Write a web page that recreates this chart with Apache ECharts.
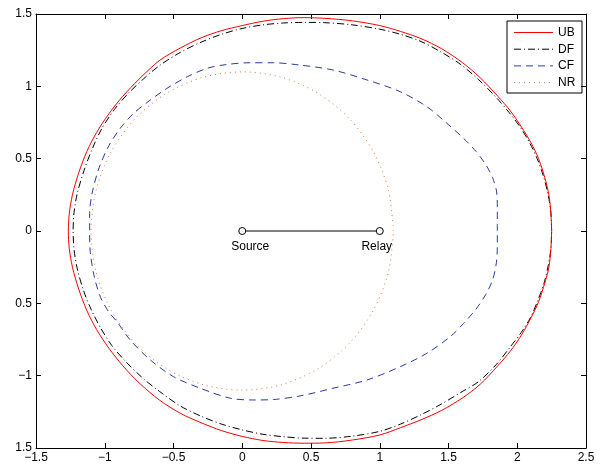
<!DOCTYPE html>
<html>
<head>
<meta charset="utf-8">
<script src="https://cdn.jsdelivr.net/npm/echarts@6/dist/echarts.min.js"></script>
<style>html,body{margin:0;padding:0;background:#fff}#c{width:600px;height:464px}</style>
</head>
<body>
<div id="c"></div>
<script>
// ---- data ----
const seriesNames = ['UB', 'DF', 'CF', 'NR'];
const ubPoints = [
  [2.25,0],[2.245,0.12],[2.23,0.25],[2.2,0.37],[2.155,0.5],[2.1,0.61],[2.03,0.72],[1.95,0.83],
  [1.86,0.93],[1.73,1.06],[1.6,1.165],[1.45,1.26],[1.3,1.33],[1.15,1.38],[1.0,1.42],[0.8,1.453],
  [0.6,1.47],[0.45,1.475],[0.3,1.468],[0.15,1.45],[0.0,1.42],[-0.15,1.385],[-0.3,1.335],
  [-0.45,1.265],[-0.6,1.18],[-0.75,1.05],[-0.87,0.93],[-0.97,0.81],[-1.06,0.68],[-1.13,0.55],
  [-1.19,0.4],[-1.235,0.25],[-1.258,0.12],[-1.265,0],
  [-1.258,-0.12],[-1.235,-0.25],[-1.19,-0.4],[-1.13,-0.55],[-1.06,-0.68],[-0.97,-0.81],
  [-0.87,-0.93],[-0.75,-1.05],[-0.6,-1.17],[-0.45,-1.26],[-0.3,-1.325],[-0.15,-1.38],[0,-1.42],
  [0.15,-1.448],[0.3,-1.462],[0.45,-1.467],[0.6,-1.465],[0.8,-1.445],[1.0,-1.41],[1.15,-1.36],
  [1.3,-1.305],[1.45,-1.24],[1.6,-1.155],[1.73,-1.06],[1.86,-0.93],[1.95,-0.83],[2.03,-0.72],
  [2.1,-0.6],[2.155,-0.49],[2.2,-0.36],[2.23,-0.25],[2.245,-0.12],[2.25,0]
];
const dfPoints = [
  [2.25,0],[2.245,0.12],[2.225,0.25],[2.19,0.38],[2.145,0.5],[2.09,0.61],[2.02,0.72],[1.94,0.82],
  [1.85,0.92],[1.72,1.045],[1.59,1.15],[1.45,1.235],[1.3,1.31],[1.15,1.36],[1.0,1.395],[0.8,1.425],
  [0.6,1.44],[0.45,1.442],[0.3,1.438],[0.15,1.425],[0.0,1.4],[-0.15,1.36],[-0.3,1.305],
  [-0.45,1.235],[-0.6,1.145],[-0.72,1.05],[-0.83,0.95],[-0.93,0.84],[-1.02,0.71],[-1.09,0.57],
  [-1.15,0.42],[-1.2,0.26],[-1.223,0.13],[-1.23,0],
  [-1.223,-0.13],[-1.2,-0.26],[-1.155,-0.41],[-1.1,-0.54],[-1.03,-0.67],[-0.95,-0.79],
  [-0.85,-0.9],[-0.72,-1.02],[-0.6,-1.11],[-0.45,-1.21],[-0.3,-1.28],[-0.15,-1.335],[0,-1.375],
  [0.15,-1.405],[0.3,-1.422],[0.45,-1.432],[0.6,-1.433],[0.8,-1.418],[1.0,-1.385],[1.15,-1.335],
  [1.3,-1.27],[1.45,-1.195],[1.6,-1.11],[1.72,-1.04],[1.85,-0.92],[1.95,-0.8],[2.03,-0.7],
  [2.095,-0.6],[2.15,-0.48],[2.195,-0.36],[2.225,-0.24],[2.245,-0.12],[2.25,0]
];
const cfPoints = [
  [1.855,0],[1.855,0.15],[1.85,0.27],[1.82,0.37],[1.77,0.46],[1.7,0.55],[1.61,0.64],[1.489,0.744],
  [1.343,0.859],[1.149,0.963],[0.907,1.044],[0.66,1.113],[0.42,1.147],[0.226,1.163],[0.05,1.163],
  [-0.12,1.15],[-0.257,1.124],[-0.4,1.066],[-0.548,0.986],[-0.669,0.905],[-0.79,0.813],[-0.887,0.71],
  [-0.97,0.59],[-1.04,0.44],[-1.09,0.27],[-1.11,0.12],[-1.11,0],[-1.105,-0.15],[-1.075,-0.32],
  [-1.03,-0.46],[-0.97,-0.56],[-0.911,-0.627],[-0.815,-0.753],[-0.67,-0.89],[-0.5,-1.007],
  [-0.305,-1.087],[-0.087,-1.156],[0.08,-1.168],[0.226,-1.165],[0.42,-1.14],[0.66,-1.087],
  [0.907,-1.03],[1.149,-0.938],[1.343,-0.845],[1.513,-0.73],[1.61,-0.638],[1.7,-0.54],
  [1.77,-0.44],[1.82,-0.34],[1.848,-0.22],[1.855,-0.1],[1.855,0]
];
const nrPoints = [
  [1.1,0],[1.0625,0.2847],[0.9526,0.55],[0.7778,0.7778],[0.55,0.9526],[0.2847,1.0625],[0,1.1],
  [-0.2847,1.0625],[-0.55,0.9526],[-0.7778,0.7778],[-0.9526,0.55],[-1.0625,0.2847],[-1.1,0],
  [-1.0625,-0.2847],[-0.9526,-0.55],[-0.7778,-0.7778],[-0.55,-0.9526],[-0.2847,-1.0625],[0,-1.1],
  [0.2847,-1.0625],[0.55,-0.9526],[0.7778,-0.7778],[0.9526,-0.55],[1.0625,-0.2847],[1.1,0]
];
const nodeNames = ['Source', 'Relay'];
const nodePoints = [[0,0],[1,0]];
const xTicks = [-1.5,-1,-0.5,0,0.5,1,1.5,2,2.5];
const xTickLabels = ['\u22121.5','\u22121','\u22120.5','0','0.5','1','1.5','2','2.5'];
const yTicks = [-1.5,-1,-0.5,0,0.5,1,1.5];
const yTickLabels = ['1.5','\u22121','0.5','0','0.5','1','1.5'];

// ---- chart ----
const FONT = '"Liberation Sans", Arial, Helvetica, sans-serif';
const colors = { UB:'#ff0000', DF:'#000000', CF:'#2a3c9e', NR:'#d9773d' };
const dashes = { UB:'solid', DF:[7,3,1,3], CF:[7,5], NR:[1,4] };

function lookup(ticks, labels){
  return v => { const i = ticks.findIndex(t => Math.abs(t - v) < 1e-9); return i >= 0 ? labels[i] : ''; };
}
function axisBase(pos, show, fmt){
  return {
    type:'value', position:pos,
    axisLine:{show:true, onZero:false, lineStyle:{color:'#000', width:1}},
    axisTick:{show:true, inside:true, length:5, lineStyle:{color:'#000', width:1}},
    splitLine:{show:false},
    axisLabel:{show:show, color:'#000', fontSize:12, fontFamily:FONT, margin:4, formatter:fmt, hideOverlap:false}
  };
}
const xMin = xTicks[0], xMax = xTicks[xTicks.length-1];
const yMin = yTicks[0], yMax = yTicks[yTicks.length-1];
const xFmt = lookup(xTicks, xTickLabels), yFmt = lookup(yTicks, yTickLabels);

const curveData = { UB:ubPoints, DF:dfPoints, CF:cfPoints, NR:nrPoints };
const series = seriesNames.map(n => ({
  name:n, type:'line', data:curveData[n], symbol:'none', smooth:0.3, silent:true,
  xAxisIndex:0, yAxisIndex:0, animation:false,
  lineStyle:{color:colors[n], width:1, type:dashes[n]}, z: n==='UB'?3:2
}));
series.push({
  name:'nodes', type:'line', xAxisIndex:0, yAxisIndex:0, animation:false,
  data: nodePoints.map((p,i) => ({
    value:p, name:nodeNames[i],
    label:{offset: i===0 ? [8,0] : [-3,0]}
  })),
  symbol:'circle', symbolSize:7, showSymbol:true,
  itemStyle:{color:'#fff', borderColor:'#000', borderWidth:1},
  lineStyle:{color:'#000', width:1, type:'solid'},
  label:{show:true, position:'bottom', distance:6, formatter:p=>p.name, color:'#000', fontSize:12, fontFamily:FONT},
  z:5
});

// legend (drawn as graphic)
const lgX = 507, lgY = 21, lgW = 75, lgH = 72;
const legendChildren = [{
  type:'rect', shape:{x:lgX, y:lgY, width:lgW, height:lgH},
  style:{fill:'#fff', stroke:'#000', lineWidth:1}
}];
seriesNames.forEach((n,i) => {
  const yy = 32.5 + i*16.7;
  legendChildren.push({
    type:'line', shape:{x1:514, y1:yy, x2:553, y2:yy},
    style:{stroke:colors[n], lineWidth:1, lineDash: Array.isArray(dashes[n]) ? dashes[n] : null}
  });
  legendChildren.push({
    type:'text', x:558, y:yy,
    style:{text:n, fill:'#000', fontSize:12, fontFamily:FONT, verticalAlign:'middle', align:'left'}
  });
});

const chart = echarts.init(document.getElementById('c'), null, {renderer:'canvas'});
chart.setOption({
  animation:false,
  backgroundColor:'#fff',
  grid:{left:36, right:14, top:14, bottom:16, containLabel:false},
  xAxis:[
    Object.assign(axisBase('bottom', true, xFmt), {min:xMin, max:xMax, interval:0.5}),
    Object.assign(axisBase('top', false, xFmt), {min:xMin, max:xMax, interval:0.5})
  ],
  yAxis:[
    Object.assign(axisBase('left', true, yFmt), {min:yMin, max:yMax, interval:0.5}),
    Object.assign(axisBase('right', false, yFmt), {min:yMin, max:yMax, interval:0.5})
  ],
  series: series,
  graphic:[{type:'group', z:100, children:legendChildren}]
});
</script>
</body>
</html>
